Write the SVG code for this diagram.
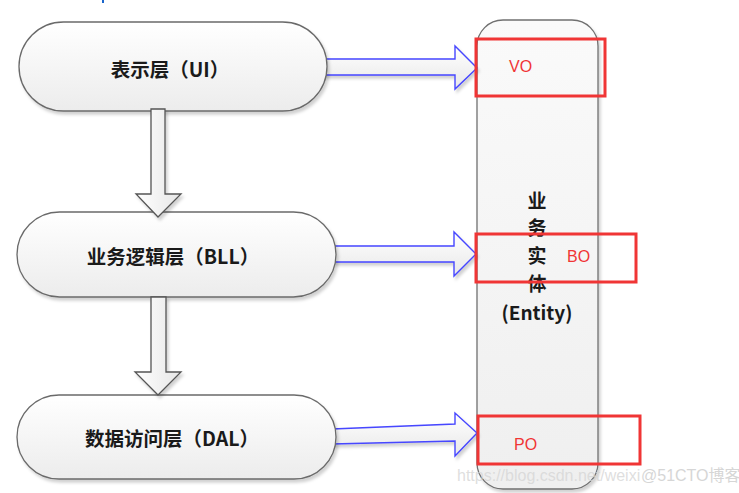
<svg xmlns="http://www.w3.org/2000/svg" width="739" height="493" viewBox="0 0 739 493">
<defs>
<linearGradient id="gNode" x1="0" y1="0" x2="0" y2="1">
<stop offset="0" stop-color="#ffffff"/>
<stop offset="1" stop-color="#ececec"/>
</linearGradient>
<linearGradient id="gEnt" x1="0" y1="0" x2="0" y2="1">
<stop offset="0" stop-color="#fafafa"/>
<stop offset="1" stop-color="#efefef"/>
</linearGradient>
<linearGradient id="gArrH" x1="0" y1="0" x2="0" y2="1">
<stop offset="0" stop-color="#ffffff"/>
<stop offset="1" stop-color="#e8e8e8"/>
</linearGradient>
<linearGradient id="gArrV" x1="0" y1="0" x2="1" y2="0">
<stop offset="0" stop-color="#ffffff"/>
<stop offset="1" stop-color="#e6e6e6"/>
</linearGradient>
<filter id="sh" x="-10%" y="-10%" width="130%" height="130%">
<feDropShadow dx="2" dy="3" stdDeviation="1.5" flood-color="#000" flood-opacity="0.18"/>
</filter>
</defs>
<style>
.node{fill:url(#gNode);stroke:#6a6a6a;stroke-width:1.3;filter:url(#sh)}
.lbl{font-family:"Noto Sans CJK SC","Liberation Sans",sans-serif;font-size:19.5px;font-weight:bold;fill:#1a1a1a;text-anchor:middle;dominant-baseline:central}
.harr{fill:url(#gArrH);stroke:#4646ff;stroke-width:1.4;stroke-linejoin:miter;filter:url(#sh)}
.varr{fill:url(#gArrV);stroke:#555;stroke-width:1.3;filter:url(#sh)}
.red{fill:none;stroke:#f03535;stroke-width:3}
.rtxt{font-family:"Liberation Sans",Arial,sans-serif;font-size:16px;fill:#f03535;dominant-baseline:central}
.ent{font-family:"Noto Sans CJK SC","Liberation Sans",sans-serif;font-size:19px;font-weight:bold;fill:#1a1a1a;text-anchor:middle;dominant-baseline:central}
.wm{font-family:"Liberation Sans",Arial,"Noto Sans CJK SC",sans-serif;font-size:16px;fill:#d6d6d6}
</style>
<rect x="0" y="0" width="739" height="493" fill="#ffffff"/>
<rect x="102" y="0" width="2" height="3" fill="#1a66cc"/>

<g id="entity">
<rect x="477" y="20" width="121" height="469" rx="26" ry="26" fill="url(#gEnt)" stroke="#707070" stroke-width="1.3" filter="url(#sh)"/>
<text class="ent" x="537" y="199">业</text>
<text class="ent" x="537" y="226">务</text>
<text class="ent" x="537" y="254">实</text>
<text class="ent" x="537" y="282">体</text>
<text class="ent" x="537" y="311" font-family="Liberation Sans,sans-serif">(Entity)</text>
</g>

<g id="connectors">
<polygon class="harr" points="322,59 455,59 455,46 477,68 455,89 455,75 322,75"/>
<polygon class="harr" points="330,246 454,246 454,232 476,254 454,276 454,262 330,262"/>
<polygon class="harr" points="332,429 455,424 455,413 477,433 455,456 455,441 332,444"/>
</g>

<g id="ui">
<rect class="node" x="19" y="22" width="308" height="89" rx="44.5" ry="44.5"/>
<text class="lbl" x="170" y="68">表示层（UI）</text>
</g>
<g id="bll">
<rect class="node" x="17" y="212" width="319" height="85" rx="42.5" ry="42.5"/>
<text class="lbl" x="173" y="255">业务逻辑层（BLL）</text>
</g>
<g id="dal">
<rect class="node" x="17" y="395" width="319" height="84" rx="42" ry="42"/>
<text class="lbl" x="172" y="437">数据访问层（DAL）</text>
</g>

<g id="down-arrows">
<polygon class="varr" points="151,109 165,109 165,194 181,194 158,217 136,194 151,194"/>
<polygon class="varr" points="151,297 166,297 166,372 181,372 158,395 135,372 151,372"/>
</g>

<g id="vo">
<rect class="red" x="476" y="39" width="129" height="57"/>
<text class="rtxt" x="509" y="66">VO</text>
</g>
<g id="bo">
<rect class="red" x="476" y="234" width="160" height="48"/>
<text class="rtxt" x="567" y="256">BO</text>
</g>
<g id="po">
<rect class="red" x="478" y="416" width="162" height="48"/>
<text class="rtxt" x="514" y="444">PO</text>
</g>

<g id="watermark">
<text class="wm" x="457" y="481" fill-opacity="0.8">https://blog.csdn.net/weixi</text>
<text class="wm" x="641" y="481" fill="#bcbcbc" font-size="14">@51CTO博客</text>
</g>
</svg>
